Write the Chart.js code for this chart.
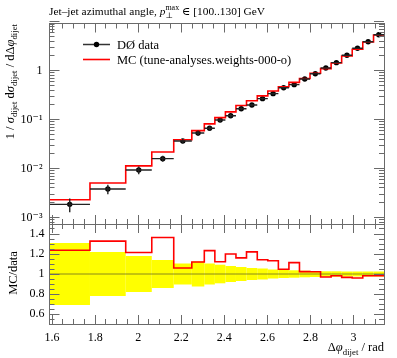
<!DOCTYPE html>
<html><head><meta charset="utf-8">
<script src="https://cdn.jsdelivr.net/npm/chart.js@4/dist/chart.umd.min.js"></script>
<style>
html,body{margin:0;padding:0;background:#fff;overflow:hidden;}
#wrap{position:relative;width:397px;height:358px;}
canvas{position:absolute;left:0;top:0;}
</style></head><body>
<div id="wrap"><canvas id="main" width="397" height="358"></canvas><canvas id="ratio" width="397" height="358"></canvas></div>
<script>
// ---- data ----
const binEdges = [1.588, 1.776, 1.942, 2.063, 2.165, 2.249, 2.307, 2.356, 2.405, 2.454, 2.503, 2.553, 2.602, 2.651, 2.700, 2.749, 2.798, 2.847, 2.896, 2.945, 2.994, 3.043, 3.093, 3.1416];
const dataValues = [1.85e-3, 3.8e-3, 9.3e-3, 1.59e-2, 3.65e-2, 5.32e-2, 6.64e-2, 9.8e-2, 0.120, 0.167, 0.199, 0.268, 0.339, 0.449, 0.518, 0.676, 0.869, 1.135, 1.46, 2.07, 2.87, 3.92, 5.45];
const dataRelErr = [0.31, 0.22, 0.18, 0.14, 0.105, 0.125, 0.105, 0.093, 0.08, 0.07, 0.06, 0.055, 0.045, 0.04, 0.037, 0.033, 0.03, 0.027, 0.027, 0.025, 0.025, 0.025, 0.025];
const mcValues = [2.29e-3, 5.05e-3, 1.13e-2, 2.17e-2, 3.87e-2, 5.96e-2, 8.19e-2, 0.110, 0.144, 0.194, 0.243, 0.306, 0.384, 0.470, 0.577, 0.692, 0.889, 1.101, 1.435, 2.00, 2.755, 3.853, 5.357];
const xTicks = [1.6, 1.8, 2.0, 2.2, 2.4, 2.6, 2.8, 3.0];
const xTickLabels = ['1.6', '1.8', '2', '2.2', '2.4', '2.6', '2.8', '3'];
const yMainTicks = [1e-3, 1e-2, 1e-1, 1];
const yMainTickLabels = ['10\u207B\u00B3', '10\u207B\u00B2', '10\u207B\u00B9', '1'];
const yRatioTicks = [0.6, 0.8, 1.0, 1.2, 1.4];
const yRatioTickLabels = ['0.6', '0.8', '1', '1.2', '1.4'];
const legendLabels = ['D\u00D8 data', 'MC (tune-analyses.weights-000-o)'];

// ---- helpers ----
const FONT = "'Liberation Serif','DejaVu Serif',serif";
const fontStr = (s, it) => (it ? 'italic ' : '') + s + 'px ' + FONT;
const FRAME = '#6a6a6a';
function drawRich(ctx, parts, x, y, size, align) {
  const adv = []; let w = 0;
  parts.forEach(p => {
    const s = (p.sub || p.sup) ? size * 0.7 : size;
    ctx.font = fontStr(s, p.it);
    const m = ctx.measureText(p.t).width; adv.push(m);
    if (!p.stack) w += m;
  });
  let cx = align === 'right' ? x - w : align === 'center' ? x - w / 2 : x;
  ctx.textAlign = 'left'; ctx.textBaseline = 'alphabetic'; ctx.fillStyle = '#000';
  parts.forEach((p, i) => {
    const s = (p.sub || p.sup) ? size * 0.7 : size;
    ctx.font = fontStr(s, p.it);
    const dy = p.sub ? size * 0.28 : p.sup ? -size * 0.4 : 0;
    ctx.fillText(p.t, cx, y + dy);
    if (!p.stack) cx += adv[i];
  });
}
function seg(ctx, x1, y1, x2, y2) { ctx.beginPath(); ctx.moveTo(x1, y1); ctx.lineTo(x2, y2); ctx.stroke(); }
const crisp = v => Math.round(v - 0.5) + 0.5;

function drawXTicks(chart, top, bottom) {
  const { ctx, chartArea: a, scales: { x } } = chart;
  const minor = [];
  for (let k = 32; k <= 62; k++) { const v = k * 0.05; if (k % 4 !== 0) minor.push(v); }
  xTicks.forEach(v => { const p = crisp(x.getPixelForValue(v)); if (bottom) seg(ctx, p, a.bottom, p, a.bottom - 9); if (top) seg(ctx, p, a.top, p, a.top + 9); });
  minor.forEach(v => { if (v < x.min || v > x.max) return; const p = crisp(x.getPixelForValue(v)); if (bottom) seg(ctx, p, a.bottom, p, a.bottom - 5); if (top) seg(ctx, p, a.top, p, a.top + 5); });
}
function drawYTicks(chart, majors, minors) {
  const { ctx, chartArea: a, scales: { y } } = chart;
  majors.forEach(v => { const p = crisp(y.getPixelForValue(v)); seg(ctx, a.left, p, a.left + 10, p); seg(ctx, a.right, p, a.right - 10, p); });
  minors.forEach(v => { if (v < y.min || v > y.max) return; const p = crisp(y.getPixelForValue(v)); seg(ctx, a.left, p, a.left + 5, p); seg(ctx, a.right, p, a.right - 5, p); });
}

const nBins = dataValues.length;
const stepPts = vals => binEdges.map((e, i) => ({ x: e, y: vals[Math.min(i, nBins - 1)] }));
const centers = dataValues.map((v, i) => (binEdges[i] + binEdges[i + 1]) / 2);

// ---- main panel ----
const mainPlugin = {
  id: 'mainDeco',
  afterDatasetDraw(chart, args) {
    if (args.index !== 0) return;
    const { ctx, scales: { x, y }, chartArea: a } = chart;
    ctx.save();
    ctx.beginPath(); ctx.rect(a.left, a.top, a.right - a.left, a.bottom - a.top); ctx.clip();
    ctx.strokeStyle = '#222'; ctx.lineWidth = 1.4;
    dataValues.forEach((v, i) => {
      const py = y.getPixelForValue(v);
      seg(ctx, x.getPixelForValue(binEdges[i]), py, x.getPixelForValue(binEdges[i + 1]), py);
      const px = x.getPixelForValue(centers[i]);
      seg(ctx, px, y.getPixelForValue(v * (1 + dataRelErr[i])), px, y.getPixelForValue(v * (1 - dataRelErr[i])));
    });
    ctx.restore();
  },
  afterDraw(chart) {
    const { ctx, chartArea: a } = chart;
    ctx.save();
    ctx.strokeStyle = FRAME; ctx.lineWidth = 1;
    ctx.strokeRect(crisp(a.left), crisp(a.top), Math.round(a.right - a.left), Math.round(a.bottom - a.top));
    drawXTicks(chart, true, true);
    const minors = [];
    for (let e = -4; e <= 1; e++) for (let m = 2; m <= 9; m++) minors.push(m * Math.pow(10, e));
    drawYTicks(chart, yMainTicks.concat([10]), minors);
    // legend
    ctx.strokeStyle = '#333'; ctx.lineWidth = 1.5;
    seg(ctx, 83, 44.5, 110, 44.5);
    ctx.fillStyle = '#000'; ctx.beginPath(); ctx.arc(96.5, 44.5, 2.7, 0, Math.PI * 2); ctx.fill();
    ctx.strokeStyle = '#ff0000'; ctx.lineWidth = 1.6;
    seg(ctx, 83, 59.5, 110, 59.5);
    drawRich(ctx, [{ t: legendLabels[0] }], 117, 48.5, 12.5, 'left');
    drawRich(ctx, [{ t: legendLabels[1] }], 117, 63.5, 12.5, 'left');
    // title
    drawRich(ctx, [{ t: 'Jet\u2013jet azimuthal angle, ' }, { t: 'p', it: true }, { t: '\u22A5', sub: true, stack: true }, { t: 'max', sup: true }, { t: ' \u2208 [100..130] GeV' }], 49, 15, 11.4, 'left');
    // y title
    ctx.save(); ctx.translate(13.5, 24); ctx.rotate(-Math.PI / 2);
    drawRich(ctx, [{ t: '1 / ' }, { t: '\u03C3', it: true }, { t: 'dijet', sub: true }, { t: ' d' }, { t: '\u03C3', it: true }, { t: 'dijet', sub: true }, { t: ' / d\u0394' }, { t: '\u03C6', it: true }, { t: 'dijet', sub: true }], 0, 0, 12.5, 'right');
    ctx.restore();
    ctx.restore();
  }
};

new Chart(document.getElementById('main'), {
  type: 'line',
  data: {
    datasets: [
      { data: stepPts(mcValues), stepped: true, borderColor: '#ff0000', borderWidth: 1.6, pointRadius: 0, fill: false },
      { data: dataValues.map((v, i) => ({ x: centers[i], y: v })), showLine: false, pointRadius: 2.7, pointBackgroundColor: '#000', pointBorderColor: '#000', pointBorderWidth: 0 }
    ]
  },
  options: {
    responsive: false, animation: false, devicePixelRatio: 1,
    layout: { padding: { left: 0, top: 23.5, right: 13, bottom: 134 } },
    plugins: { legend: { display: false }, tooltip: { enabled: false } },
    scales: {
      x: { type: 'linear', min: binEdges[0], max: binEdges[binEdges.length - 1], display: false },
      y: {
        type: 'logarithmic', min: 7.33e-4, max: 9.23,
        afterBuildTicks: s => { s.ticks = yMainTicks.map(v => ({ value: v })); },
        afterFit: s => { s.width = 49.5; },
        grid: { display: false, drawTicks: false }, border: { display: false },
        ticks: { padding: 7, color: '#000', font: { family: FONT, size: 12 }, callback: v => yMainTickLabels[yMainTicks.findIndex(t => Math.abs(t - v) / t < 1e-6)] }
      }
    }
  },
  plugins: [mainPlugin]
});

// ---- ratio panel ----
const ratioPlugin = {
  id: 'ratioDeco',
  beforeDatasetsDraw(chart) {
    const { ctx, scales: { x, y } } = chart;
    ctx.save();
    ctx.fillStyle = '#ffff00';
    dataRelErr.forEach((e, i) => {
      const x1 = x.getPixelForValue(binEdges[i]), x2 = x.getPixelForValue(binEdges[i + 1]);
      const y1 = y.getPixelForValue(1 + e), y2 = y.getPixelForValue(1 - e);
      ctx.fillRect(x1, y1, x2 - x1, y2 - y1);
    });
    ctx.restore();
  },
  afterDraw(chart) {
    const { ctx } = chart;
    ctx.save();
    ctx.strokeStyle = FRAME; ctx.lineWidth = 1;
    const a = chart.chartArea;
    ctx.strokeRect(crisp(a.left), crisp(a.top), Math.round(a.right - a.left), Math.round(a.bottom - a.top));
    drawXTicks(chart, true, true);
    const minors = [];
    for (let k = 10; k <= 30; k++) if (k % 4 !== 0) minors.push(k * 0.05);
    drawYTicks(chart, yRatioTicks, minors);
    ctx.save(); ctx.translate(16.5, 273); ctx.rotate(-Math.PI / 2);
    drawRich(ctx, [{ t: 'MC/data' }], 0, 0, 12.5, 'center');
    ctx.restore();
    drawRich(ctx, [{ t: '\u0394' }, { t: '\u03C6', it: true }, { t: 'dijet', sub: true }, { t: ' / rad' }], 384, 351, 12.5, 'right');
    ctx.restore();
  }
};

new Chart(document.getElementById('ratio'), {
  type: 'line',
  data: {
    datasets: [
      { data: [{ x: binEdges[0], y: 1 }, { x: binEdges[binEdges.length - 1], y: 1 }], borderColor: 'rgba(60,60,40,0.6)', borderWidth: 1, pointRadius: 0, fill: false },
      { data: stepPts(mcValues.map((m, i) => m / dataValues[i])), stepped: true, borderColor: '#ff0000', borderWidth: 1.6, pointRadius: 0, fill: false }
    ]
  },
  options: {
    responsive: false, animation: false, devicePixelRatio: 1,
    layout: { padding: { left: 0, top: 224, right: 13, bottom: 0 } },
    plugins: { legend: { display: false }, tooltip: { enabled: false } },
    scales: {
      x: {
        type: 'linear', min: binEdges[0], max: binEdges[binEdges.length - 1],
        afterBuildTicks: s => { s.ticks = xTicks.map(v => ({ value: v })); },
        afterFit: s => { s.height = 34; },
        grid: { display: false, drawTicks: false }, border: { display: false },
        ticks: { padding: 7, maxRotation: 0, autoSkip: false, color: '#000', font: { family: FONT, size: 12 }, callback: v => xTickLabels[xTicks.findIndex(t => Math.abs(t - v) < 1e-6)] }
      },
      y: {
        type: 'linear', min: 0.5, max: 1.5,
        afterBuildTicks: s => { s.ticks = yRatioTicks.map(v => ({ value: v })); },
        afterFit: s => { s.width = 49.5; },
        grid: { display: false, drawTicks: false }, border: { display: false },
        ticks: { padding: 5, color: '#000', font: { family: FONT, size: 12 }, callback: v => yRatioTickLabels[yRatioTicks.findIndex(t => Math.abs(t - v) < 1e-6)] }
      }
    }
  },
  plugins: [ratioPlugin]
});
</script>
</body></html>
